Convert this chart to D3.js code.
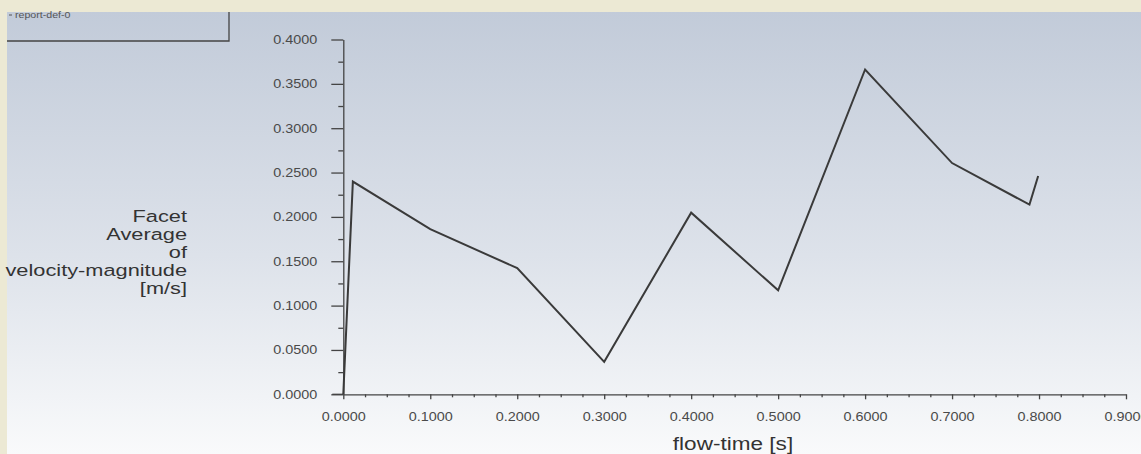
<!DOCTYPE html>
<html>
<head>
<meta charset="utf-8">
<script src="https://cdn.jsdelivr.net/npm/d3@7"></script>
<style>
  body { margin: 0; background: #ece9d4; }
  svg { display: block; font-family: "Liberation Sans", Arial, sans-serif; }
</style>
</head>
<body>
<svg id="chart" width="1141" height="454"></svg>
<script>
// flow-time [s] vs facet average velocity magnitude [m/s]
const flowTime = [0, 0.011, 0.1, 0.2, 0.3, 0.4, 0.5, 0.6, 0.7, 0.789, 0.799];
const velocity = [0, 0.2398, 0.1862, 0.1422, 0.0366, 0.2048, 0.1172, 0.3662, 0.2607, 0.2138, 0.2462];
const xTicks = [0, 0.1, 0.2, 0.3, 0.4, 0.5, 0.6, 0.7, 0.8, 0.9];
const yTicks = [0, 0.05, 0.1, 0.15, 0.2, 0.25, 0.3, 0.35, 0.4];
const yTitle = ['Facet', 'Average', 'of', 'velocity-magnitude', '[m/s]'];
const seriesName = 'report-def-0';

const svg = d3.select('#chart');
const fmt = d3.format('.4f');
const stretch = 1.2; // the source font is rendered wide

const x = d3.scaleLinear().domain([0, 0.9]).range([343.3, 1126]);
const y = d3.scaleLinear().domain([0, 0.4]).range([394.3, 39.5]);

// panel background gradient
const grad = svg.append('defs')
    .append('linearGradient')
        .attr('id', 'bg')
        .attr('x1', 0).attr('y1', 0)
        .attr('x2', 0).attr('y2', 1);
grad.append('stop').attr('offset', '0%').attr('stop-color', '#c2cbd9');
grad.append('stop').attr('offset', '55%').attr('stop-color', '#dde2ea');
grad.append('stop').attr('offset', '100%').attr('stop-color', '#f9fafb');

svg.append('rect')
    .attr('width', 1141).attr('height', 454)
    .attr('fill', '#ece9d4');
svg.append('rect')
    .attr('x', 7).attr('y', 12)
    .attr('width', 1134).attr('height', 442)
    .attr('fill', 'url(#bg)');

// legend box (top cut off)
svg.append('path')
    .attr('d', 'M7,41H229V12')
    .attr('fill', 'none')
    .attr('stroke', '#444')
    .attr('stroke-width', 1.3);
svg.append('line')
    .attr('x1', 9).attr('x2', 12)
    .attr('y1', 15).attr('y2', 15)
    .attr('stroke', '#555');
svg.append('text')
    .attr('transform', `translate(15,18) scale(1.25,1)`)
    .attr('font-size', 8.5)
    .attr('fill', '#555')
    .text(seriesName);

// y axis
const minorY = d3.range(0.025, 0.4, 0.05);
svg.append('g')
    .attr('transform', `translate(${x(0)},0)`)
    .call(d3.axisLeft(y).tickValues(minorY).tickSize(5).tickFormat(''))
    .call(g => g.select('.domain').remove());
svg.append('g')
    .attr('class', 'y-axis')
    .attr('transform', `translate(${x(0)},0)`)
    .call(d3.axisLeft(y).tickValues(yTicks).tickSize(12).tickPadding(14).tickFormat(fmt).tickSizeOuter(0));
svg.selectAll('.y-axis .tick text')
    .attr('x', -26 / stretch)
    .attr('transform', `scale(${stretch},1)`);

// x axis
const minorX = d3.range(0, 0.9001, 0.025).filter((d, i) => i % 4 !== 0);
svg.append('g')
    .attr('transform', `translate(0,${y(0)})`)
    .call(d3.axisBottom(x).tickValues(minorX).tickSize(3).tickFormat(''))
    .call(g => g.select('.domain').remove());
svg.append('g')
    .attr('class', 'x-axis')
    .attr('transform', `translate(0,${y(0)})`)
    .call(d3.axisBottom(x).tickValues(xTicks).tickSize(5).tickPadding(13).tickFormat(fmt).tickSizeOuter(0));
svg.selectAll('.x-axis .tick text')
    .attr('transform', `scale(${stretch},1)`);
svg.append('line')
    .attr('x1', x(0) - 11).attr('x2', x(0))
    .attr('y1', y(0)).attr('y2', y(0))
    .attr('stroke', '#444').attr('stroke-width', 1.3);

svg.selectAll('.tick line').attr('stroke', '#444').attr('stroke-width', 1.3);
svg.selectAll('.domain').attr('stroke', '#444').attr('stroke-width', 1.3);
svg.selectAll('.tick text')
    .attr('font-size', 12)
    .attr('fill', '#4a4a4a')
    .attr('font-family', '"Liberation Sans", Arial, sans-serif');

// axis titles
svg.append('text')
    .attr('transform', `translate(733,450) scale(1.22,1)`)
    .attr('text-anchor', 'middle')
    .attr('font-size', 18.5)
    .attr('fill', '#333')
    .text('flow-time [s]');

svg.append('text')
    .attr('transform', `translate(187,0) scale(1.32,1)`)
    .attr('text-anchor', 'end')
    .attr('font-size', 16.5)
    .attr('fill', '#333')
    .selectAll('tspan')
    .data(yTitle)
    .enter()
        .append('tspan')
        .attr('x', 0)
        .attr('y', (d, i) => 222 + i * 18)
        .text(d => d);

// data line
const points = flowTime.map((t, i) => [t, velocity[i]]);
svg.append('path')
    .datum(points)
    .attr('fill', 'none')
    .attr('stroke', '#3a3a3a')
    .attr('stroke-width', 2)
    .attr('stroke-linejoin', 'miter')
    .attr('d', d3.line().x(d => x(d[0])).y(d => y(d[1])));
</script>
</body>
</html>
